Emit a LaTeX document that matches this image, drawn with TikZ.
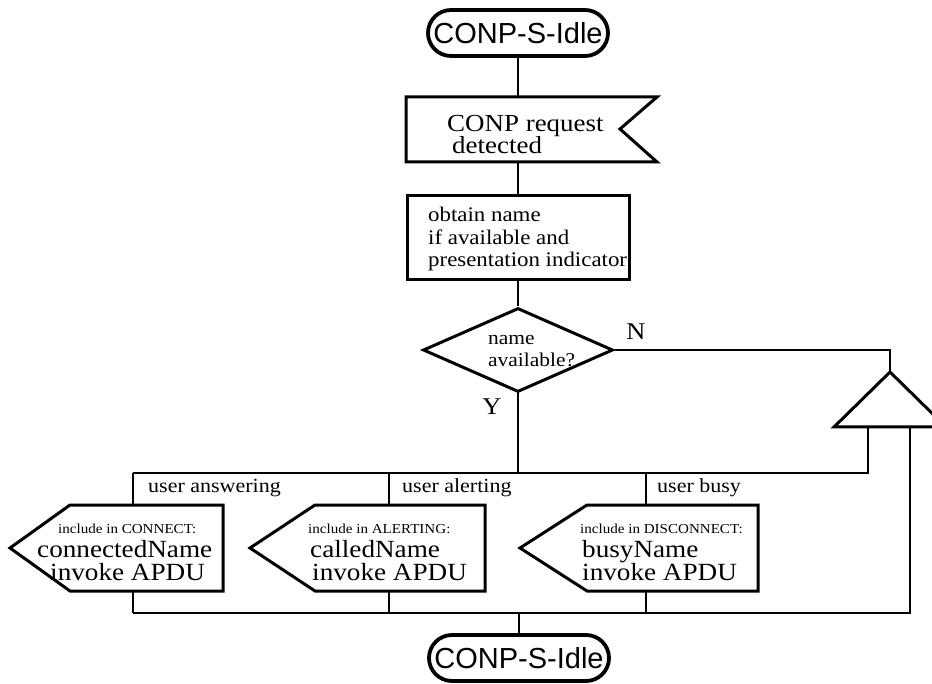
\documentclass[tikz,border=0pt]{standalone}
\usepackage{fontspec}
\setmainfont[FakeStretch=1.1]{Liberation Serif}
\newfontfamily\termfont{Liberation Sans}
\usetikzlibrary{shapes.geometric,shapes.misc}
\newcommand\mytightskip{\lineskiplimit=-50pt\relax}
\begin{document}
\begin{tikzpicture}[x=1pt,y=-1pt,line join=miter]
\tikzset{
  conn/.style={line width=2.6pt},
  boxline/.style={line width=3pt},
  term/.style={rounded rectangle, draw, line width=3.8pt, minimum width=180pt, minimum height=46pt, inner sep=0pt, font=\termfont\fontsize{29}{29}\selectfont},
  lbl/.style={anchor=base west, inner sep=0pt},
  big/.style={anchor=north west, inner sep=0pt, align=left, font={\fontsize{24.5}{21.5}\selectfont\mytightskip}},
  mid/.style={lbl, font=\fontsize{20.8}{20.8}\selectfont},
  dec/.style={lbl, font=\fontsize{19.5}{19.5}\selectfont},
  branch/.style={lbl, font=\fontsize{20}{20}\selectfont},
  small/.style={lbl, font=\fontsize{13.7}{13.7}\selectfont},
  outtxt/.style={lbl, font=\fontsize{24.7}{24.7}\selectfont},
  yn/.style={inner sep=0pt, font=\fontsize{24}{24}\selectfont}
}
\useasboundingbox (0,0) rectangle (932,684);
\clip (0,0) rectangle (932,684);

% terminals
\node[term] (t1) at (518,33) {CONP-S-Idle};
\node[term] (t2) at (519,658) {CONP-S-Idle};

% input signal box
\coordinate (sigNW) at (406,97);
\coordinate (sigNE) at (657,97);
\coordinate (sigTip) at (620,129);
\coordinate (sigSE) at (657,162);
\coordinate (sigSW) at (406,162);
\coordinate (sigN) at (518,97);
\coordinate (sigS) at (518,162);
\draw[boxline] (sigNW) -- (sigNE) -- (sigTip) -- (sigSE) -- (sigSW) -- cycle;
\node[big] (sig1) at (447,115.5) {CONP request\\\hspace*{5pt}detected};

% process box
\node[draw, boxline, minimum width=222pt, minimum height=84pt, inner sep=0pt] (proc) at (518,238) {};
\node[mid] (p1) at (428,222) {obtain name};
\node[mid] (p2) at (428,245) {if available and};
\node[mid] (p3) at (428,267) {presentation indicator};

% decision
\node[diamond, draw, boxline, minimum width=190pt, minimum height=84pt, inner sep=0pt] (dec) at (518,350) {};
\node[dec] (d1) at (488,345) {name};
\node[dec] (d2) at (488,367) {available?};
\node[yn] (lN) at (636,332) {N};
\node[yn] (lY) at (492,407) {Y};

% triangle connector
\coordinate (nCorner) at (890,350);
\coordinate (triTop) at (890,372);
\coordinate (triL) at (834,427);
\coordinate (triR) at (946,427);
\coordinate (triB1) at (868,427);
\coordinate (triB2) at (910,427);
\draw[boxline] (triTop) -- (triL) -- (triR) -- cycle;

% branch bus
\coordinate (yJoin) at (518,473);
\coordinate (br1) at (133,473);
\coordinate (br2) at (389,473);
\coordinate (br3) at (646,473);

% output boxes
\coordinate (o1tip) at (10,548);
\coordinate (o1NW) at (70,505);
\coordinate (o1NE) at (223,505);
\coordinate (o1SE) at (223,591);
\coordinate (o1SW) at (70,591);
\coordinate (o1N) at (133,505);
\coordinate (o1S) at (133,591);
\draw[boxline] (o1tip) -- (o1NW) -- (o1NE) -- (o1SE) -- (o1SW) -- cycle;

\coordinate (o2tip) at (250,548);
\coordinate (o2NW) at (315,505);
\coordinate (o2NE) at (485,505);
\coordinate (o2SE) at (485,591);
\coordinate (o2SW) at (315,591);
\coordinate (o2N) at (389,505);
\coordinate (o2S) at (389,591);
\draw[boxline] (o2tip) -- (o2NW) -- (o2NE) -- (o2SE) -- (o2SW) -- cycle;

\coordinate (o3tip) at (520,548);
\coordinate (o3NW) at (587,505);
\coordinate (o3NE) at (758,505);
\coordinate (o3SE) at (758,591);
\coordinate (o3SW) at (587,591);
\coordinate (o3N) at (646,505);
\coordinate (o3S) at (646,591);
\draw[boxline] (o3tip) -- (o3NW) -- (o3NE) -- (o3SE) -- (o3SW) -- cycle;

\node[branch] (l1) at (148,493) {user answering};
\node[branch] (l2) at (402,493) {user alerting};
\node[branch] (l3) at (657,493) {user busy};

\node[small] (a1) at (58,533) {include in CONNECT:};
\node[outtxt] (a2) at (37,557) {connectedName};
\node[outtxt] (a3) at (50,580) {invoke APDU};

\node[small] (b1) at (308,533) {include in ALERTING:};
\node[outtxt] (b2) at (310,557) {calledName};
\node[outtxt] (b3) at (312,580) {invoke APDU};

\node[small] (c1) at (580,533) {include in DISCONNECT:};
\node[outtxt] (c2) at (582,557) {busyName};
\node[outtxt] (c3) at (582,580) {invoke APDU};

% bottom bus
\coordinate (bot1) at (133,613);
\coordinate (bot2) at (389,613);
\coordinate (bot3) at (646,613);
\coordinate (botMid) at (519,613);

% connectors
\draw[conn] (t1.south) -- (sigN);
\draw[conn] (sigS) -- (proc.north);
\draw[conn] (proc.south) -- (dec.north);
\draw[conn] (dec.east) -- (nCorner) -- (triTop);
\draw[conn] (dec.south) -- (yJoin);
\draw[conn] (triB1) |- (br1);
\draw[conn] (br1) -- (o1N);
\draw[conn] (br2) -- (o2N);
\draw[conn] (br3) -- (o3N);
\draw[conn] (o1S) -- (bot1);
\draw[conn] (o2S) -- (bot2);
\draw[conn] (o3S) -- (bot3);
\draw[conn] (bot1) -| (triB2);
\draw[conn] (botMid) -- (t2.north);
\end{tikzpicture}
\end{document}
